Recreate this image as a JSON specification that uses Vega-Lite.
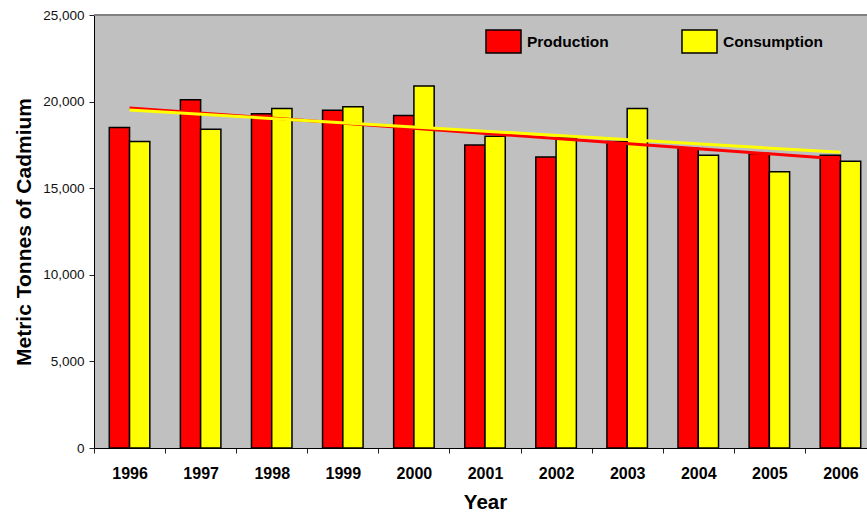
{
  "$schema": "https://vega.github.io/schema/vega-lite/v6.json",
  "width": 773,
  "height": 433,
  "autosize": {"type": "none"},
  "padding": {"left": 94, "top": 15, "right": 0, "bottom": 67},
  "config": {
    "font": "Liberation Sans",
    "view": {"fill": "#c0c0c0", "stroke": null},
    "axis": {"grid": false, "domainColor": "#000000", "domainWidth": 1, "tickColor": "#222222", "tickWidth": 1, "tickSize": 5}
  },
  "data": {
    "values": [
      {"Year": 1996, "Series": "Production", "Tonnes": 18500},
      {"Year": 1996, "Series": "Consumption", "Tonnes": 17700},
      {"Year": 1997, "Series": "Production", "Tonnes": 20100},
      {"Year": 1997, "Series": "Consumption", "Tonnes": 18400},
      {"Year": 1998, "Series": "Production", "Tonnes": 19300},
      {"Year": 1998, "Series": "Consumption", "Tonnes": 19600},
      {"Year": 1999, "Series": "Production", "Tonnes": 19500},
      {"Year": 1999, "Series": "Consumption", "Tonnes": 19700},
      {"Year": 2000, "Series": "Production", "Tonnes": 19200},
      {"Year": 2000, "Series": "Consumption", "Tonnes": 20900},
      {"Year": 2001, "Series": "Production", "Tonnes": 17500},
      {"Year": 2001, "Series": "Consumption", "Tonnes": 18000},
      {"Year": 2002, "Series": "Production", "Tonnes": 16800},
      {"Year": 2002, "Series": "Consumption", "Tonnes": 17900},
      {"Year": 2003, "Series": "Production", "Tonnes": 17700},
      {"Year": 2003, "Series": "Consumption", "Tonnes": 19600},
      {"Year": 2004, "Series": "Production", "Tonnes": 17300},
      {"Year": 2004, "Series": "Consumption", "Tonnes": 16900},
      {"Year": 2005, "Series": "Production", "Tonnes": 17000},
      {"Year": 2005, "Series": "Consumption", "Tonnes": 15950},
      {"Year": 2006, "Series": "Production", "Tonnes": 16900},
      {"Year": 2006, "Series": "Consumption", "Tonnes": 16550}
    ]
  },
  "encoding": {
    "x": {
      "field": "Year",
      "type": "ordinal",
      "scale": {
        "domain": [1996, 1997, 1998, 1999, 2000, 2001, 2002, 2003, 2004, 2005, 2006],
        "range": [0, 782],
        "paddingInner": 0.43,
        "paddingOuter": 0.215
      },
      "axis": {
        "title": "Year",
        "labelAngle": 0,
        "labelFontSize": 16,
        "labelFontWeight": "bold",
        "labelColor": "#000000",
        "labelPadding": 12,
        "tickOffset": -35.55,
        "labelOffset": 35.55,
        "titleFontSize": 20.5,
        "titleFontWeight": "bold",
        "titleColor": "#000000",
        "titlePadding": 11
      }
    },
    "y": {
      "field": "Tonnes",
      "type": "quantitative",
      "scale": {"domain": [0, 25000], "nice": false},
      "axis": {
        "title": "Metric Tonnes of Cadmium",
        "values": [0, 5000, 10000, 15000, 20000, 25000],
        "format": ",.0f",
        "labelFontSize": 13.5,
        "labelColor": "#111111",
        "labelPadding": 5,
        "titleFontSize": 21,
        "titleFontWeight": "bold",
        "titleColor": "#000000",
        "titlePadding": 8
      }
    }
  },
  "layer": [
    {
      "mark": {"type": "rule", "color": "#808080", "strokeWidth": 1.5},
      "encoding": {"x": null, "y": {"datum": 25000, "type": "quantitative"}}
    },
    {
      "mark": {"type": "bar", "stroke": "#000000", "strokeWidth": 1.5},
      "encoding": {
        "xOffset": {"field": "Series", "type": "nominal", "sort": ["Production", "Consumption"], "scale": {"paddingInner": 0, "paddingOuter": 0}},
        "fill": {
          "field": "Series",
          "type": "nominal",
          "sort": ["Production", "Consumption"],
          "scale": {"domain": ["Production", "Consumption"], "range": ["#ff0000", "#ffff00"]},
          "legend": {
            "orient": "none",
            "legendX": 391,
            "legendY": 8,
            "direction": "horizontal",
            "columns": 2,
            "columnPadding": 70,
            "padding": 0,
            "title": null,
            "symbolType": "M-1,-0.657L1,-0.657L1,0.657L-1,0.657Z",
            "symbolSize": 1225,
            "symbolStrokeColor": "#000000",
            "symbolStrokeWidth": 1.5,
            "symbolOpacity": 1,
            "labelFont": "Liberation Sans",
            "labelFontSize": 15.5,
            "labelFontWeight": "bold",
            "labelColor": "#000000",
            "labelOffset": 5,
            "encode": {
              "symbols": {
                "update": {
                  "stroke": {"value": "#000000"},
                  "strokeWidth": {"value": 1.5}
                }
              }
            }
          }
        }
      }
    },
    {
      "transform": [
        {"filter": "datum.Series === 'Production'"},
        {"regression": "Tonnes", "on": "Year", "method": "linear"}
      ],
      "mark": {"type": "line", "strokeWidth": 3, "color": "#ff0000"},
      "encoding": {}
    },
    {
      "transform": [
        {"filter": "datum.Series === 'Consumption'"},
        {"regression": "Tonnes", "on": "Year", "method": "linear"}
      ],
      "mark": {"type": "line", "strokeWidth": 3, "color": "#ffff00"},
      "encoding": {}
    }
  ]
}
